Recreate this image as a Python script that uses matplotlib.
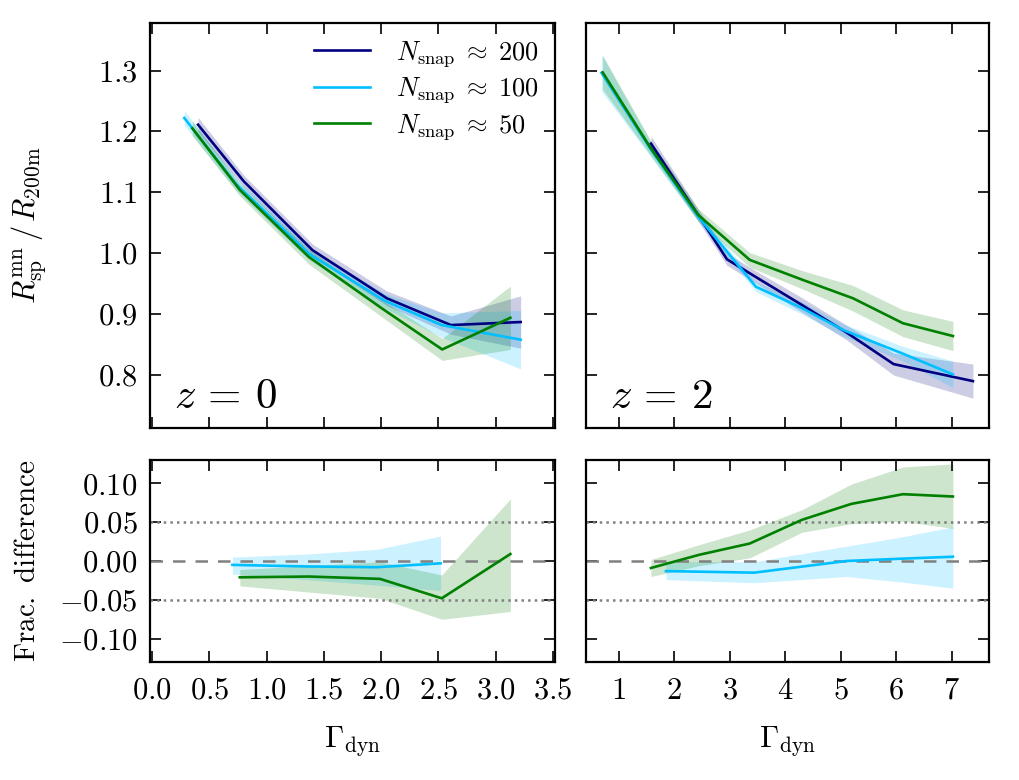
import numpy as np
import matplotlib
matplotlib.use('Agg')
import matplotlib.pyplot as plt
from matplotlib.ticker import FuncFormatter, MultipleLocator

plt.rcParams['mathtext.fontset'] = 'cm'
plt.rcParams['font.family'] = 'serif'
plt.rcParams['font.serif'] = ['cmr10', 'DejaVu Serif']
plt.rcParams['axes.unicode_minus'] = False

c200 = '#000080'
c100 = '#00bfff'
c50 = 'green'

# z = 0, R_sp / R_200m
x200_z0 = [0.40, 0.80, 1.40, 2.05, 2.61, 3.22]
y200_z0 = [1.211, 1.118, 1.005, 0.926, 0.882, 0.887]
e200_z0 = [0.012, 0.010, 0.010, 0.012, 0.015, 0.043]
x100_z0 = [0.28, 0.74, 1.37, 2.03, 2.53, 3.22]
y100_z0 = [1.222, 1.112, 0.999, 0.922, 0.882, 0.858]
e100_z0 = [0.012, 0.010, 0.010, 0.012, 0.020, 0.048]
x50_z0 = [0.35, 0.765, 1.368, 2.01, 2.534, 3.13]
y50_z0 = [1.205, 1.104, 0.994, 0.909, 0.842, 0.894]
e50_z0 = [0.012, 0.010, 0.012, 0.014, 0.018, 0.052]

# z = 2, R_sp / R_200m
x200_z2 = [1.58, 2.45, 2.95, 3.45, 4.3, 5.1, 5.95, 7.38]
y200_z2 = [1.180, 1.060, 0.990, 0.962, 0.915, 0.870, 0.818, 0.790]
e200_z2 = [0.012, 0.010, 0.010, 0.010, 0.012, 0.012, 0.018, 0.028]
x100_z2 = [0.69, 1.58, 2.45, 3.47, 4.3, 5.04, 6.12, 7.02]
y100_z2 = [1.296, 1.170, 1.058, 0.945, 0.910, 0.874, 0.835, 0.801]
e100_z2 = [0.030, 0.012, 0.008, 0.008, 0.010, 0.010, 0.012, 0.022]
x50_z2 = [0.71, 1.58, 2.43, 3.36, 4.32, 5.22, 6.12, 7.02]
y50_z2 = [1.297, 1.172, 1.063, 0.989, 0.956, 0.926, 0.885, 0.864]
e50_z2 = [0.028, 0.012, 0.010, 0.012, 0.015, 0.021, 0.022, 0.024]

# z = 0, fractional difference w.r.t. N_snap ~ 200
xd100_z0 = [0.70, 1.35, 1.96, 2.52]
yd100_z0 = [-0.005, -0.007, -0.008, -0.003]
lo100_z0 = [-0.017, -0.024, -0.031, -0.038]
hi100_z0 = [0.005, 0.009, 0.015, 0.032]
xd50_z0 = [0.765, 1.37, 1.99, 2.53, 3.13]
yd50_z0 = [-0.021, -0.020, -0.023, -0.048, 0.009]
lo50_z0 = [-0.032, -0.040, -0.048, -0.075, -0.065]
hi50_z0 = [-0.011, -0.006, -0.001, -0.018, 0.080]

# z = 2, fractional difference
xd100_z2 = [1.85, 3.44, 5.10, 6.10, 7.02]
yd100_z2 = [-0.013, -0.015, 0.000, 0.003, 0.0055]
lo100_z2 = [-0.024, -0.028, -0.020, -0.027, -0.035]
hi100_z2 = [-0.001, -0.001, 0.019, 0.031, 0.044]
xd50_z2 = [1.58, 2.45, 3.36, 4.30, 5.19, 6.12, 7.02]
yd50_z2 = [-0.009, 0.008, 0.0225, 0.053, 0.0735, 0.086, 0.083]
lo50_z2 = [-0.020, -0.006, 0.004, 0.037, 0.048, 0.051, 0.042]
hi50_z2 = [0.002, 0.021, 0.040, 0.066, 0.099, 0.121, 0.125]

labels = [r'$N_{\rm snap} \;\approx\; 200$', r'$N_{\rm snap} \;\approx\; 100$',
          r'$N_{\rm snap} \;\approx\; 50$']

fig = plt.figure(figsize=(10.2, 7.8), dpi=100)
ax1 = fig.add_axes([150/1020, 1-428/780, 405/1020, 405/780])
ax2 = fig.add_axes([586/1020, 1-428/780, 403/1020, 405/780])
ax3 = fig.add_axes([150/1020, 1-662/780, 405/1020, 202/780])
ax4 = fig.add_axes([586/1020, 1-662/780, 403/1020, 202/780])


def band(ax, x, y, e, c, label=None):
    x = np.array(x); y = np.array(y); e = np.array(e)
    ax.fill_between(x, y - e, y + e, color=c, alpha=0.2, lw=0)
    ax.plot(x, y, color=c, lw=1.9, label=label)


def diff(ax, x, y, lo, hi, c):
    ax.fill_between(x, lo, hi, color=c, alpha=0.2, lw=0)
    ax.plot(x, y, color=c, lw=1.9)


band(ax1, x200_z0, y200_z0, e200_z0, c200, labels[0])
band(ax1, x100_z0, y100_z0, e100_z0, c100, labels[1])
band(ax1, x50_z0, y50_z0, e50_z0, c50, labels[2])
band(ax2, x200_z2, y200_z2, e200_z2, c200)
band(ax2, x100_z2, y100_z2, e100_z2, c100)
band(ax2, x50_z2, y50_z2, e50_z2, c50)

for ax in [ax3, ax4]:
    ax.axhline(0.0, color='gray', ls='--', lw=1.8, dashes=(5, 4))
    ax.axhline(0.05, color='gray', ls=':', lw=1.8)
    ax.axhline(-0.05, color='gray', ls=':', lw=1.8)
diff(ax3, xd100_z0, yd100_z0, lo100_z0, hi100_z0, c100)
diff(ax3, xd50_z0, yd50_z0, lo50_z0, hi50_z0, c50)
diff(ax4, xd100_z2, yd100_z2, lo100_z2, hi100_z2, c100)
diff(ax4, xd50_z2, yd50_z2, lo50_z2, hi50_z2, c50)

fmt = FuncFormatter(lambda v, p: r'$%s$' % ('%.1f' % v))
fmt2 = FuncFormatter(lambda v, p: r'$%s$' % ('%.2f' % v))
fmt0 = FuncFormatter(lambda v, p: r'$%d$' % round(v))

for ax in [ax1, ax3]:
    ax.set_xlim(-0.02, 3.52)
    ax.xaxis.set_major_locator(MultipleLocator(0.5))
for ax in [ax2, ax4]:
    ax.set_xlim(0.41, 7.67)
    ax.xaxis.set_major_locator(MultipleLocator(1))
for ax in [ax1, ax2]:
    ax.set_ylim(0.713, 1.378)
    ax.yaxis.set_major_locator(MultipleLocator(0.1))
    ax.tick_params(labelbottom=False)
for ax in [ax3, ax4]:
    ax.set_ylim(-0.13, 0.13)
    ax.yaxis.set_major_locator(MultipleLocator(0.05))

for ax in [ax1, ax2, ax3, ax4]:
    ax.tick_params(direction='in', top=True, right=True, length=8, width=1.2,
                   labelsize=22, pad=9)
    for s in ax.spines.values():
        s.set_linewidth(1.6)

ax1.yaxis.set_major_formatter(fmt)
ax3.yaxis.set_major_formatter(fmt2)
ax3.xaxis.set_major_formatter(fmt)
ax4.xaxis.set_major_formatter(fmt0)
ax2.tick_params(labelleft=False)
ax4.tick_params(labelleft=False)
ax3.tick_params(axis='x', pad=11)
ax4.tick_params(axis='x', pad=11)

ax1.set_ylabel(r'$R_{\rm sp}^{\rm mn} \, / \, R_{\rm 200m}$', fontsize=22)
ax3.set_ylabel(r'$\rm Frac.\ difference$', fontsize=21)
ax3.set_xlabel(r'$\Gamma_{\rm dyn}$', fontsize=22, labelpad=14)
ax4.set_xlabel(r'$\Gamma_{\rm dyn}$', fontsize=22, labelpad=14)

ax1.text(0.06, 0.05, r'$z\, =\, 0$', transform=ax1.transAxes, fontsize=31)
ax2.text(0.06, 0.05, r'$z\, =\, 2$', transform=ax2.transAxes, fontsize=31)

ax1.legend(loc='upper right', frameon=False, fontsize=19, handlelength=2.1,
           handletextpad=1.0, labelspacing=0.25, borderaxespad=0.2)
ax1.yaxis.set_label_coords(-0.25, 0.5)
ax3.yaxis.set_label_coords(-0.27, 0.5)

fig.savefig('out.png', dpi=100)
